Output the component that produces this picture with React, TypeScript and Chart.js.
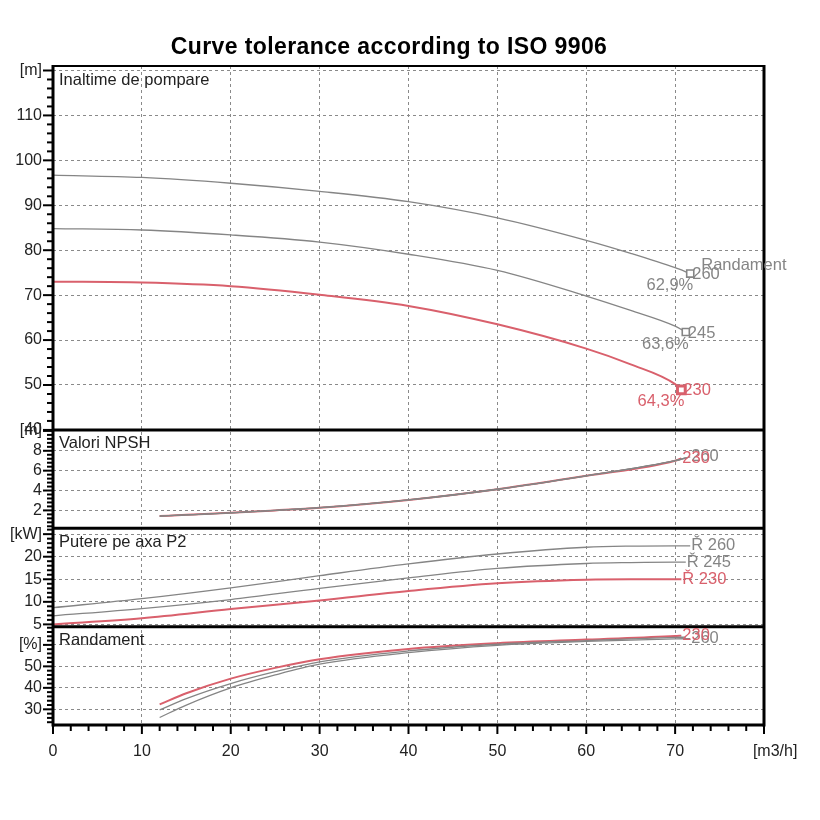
import { useEffect, useRef } from 'react';
import { Chart, registerables, Plugin } from 'chart.js';

Chart.register(...registerables);

const FONT = "'Liberation Sans', Arial, sans-serif";
const GRAY = '#858585';
const RED = '#d9606c';
const TEXT = '#222';

const TITLE = 'Curve tolerance according to ISO 9906';
// leading spaces push the unit a little right of the last tick, as in the original
const X_UNIT = '\u00a0\u00a0\u00a0\u00a0\u00a0[m3/h]';

// panels, top to bottom
const panelIds = ['yHead', 'yNpsh', 'yPower', 'yEff'];
const panelTitles = ['Inaltime de pompare', 'Valori NPSH', 'Putere pe axa P2', 'Randament'];
const panelUnits = ['[m]', '[m]', '[kW]', '[%]'];
const axisMin = [40, 0.2, 4.5, 22.7];
const axisMax = [121, 10.1, 26.3, 68.5];
const axisStep = [10, 2, 5, 10];
const axisMinor = [2, 0.4, 1, 2];
const axisWeight = [3.7, 1, 1, 1];

// flow [m3/h] for head and power curves
const qFull260 = [0, 10, 20, 30, 40, 50, 60, 65, 70, 71.7];
const qFull245 = [0, 10, 20, 30, 40, 50, 60, 65, 70, 71.2];
const qFull230 = [0, 10, 20, 30, 40, 50, 60, 65, 70, 70.7];

const head260 = [96.7, 96.2, 94.9, 93.1, 90.8, 87.2, 82.2, 79.3, 76.1, 74.8];
const head245 = [84.8, 84.5, 83.4, 81.8, 79.1, 75.5, 69.8, 66.6, 63.1, 61.8];
const head230 = [73.0, 72.8, 72.0, 70.1, 67.6, 63.5, 58.1, 54.6, 50.2, 48.9];

const power260 = [8.7, 10.7, 13.1, 15.8, 18.4, 20.6, 22.1, 22.35, 22.4, 22.4];
const power245 = [6.9, 8.5, 10.5, 13.0, 15.3, 17.4, 18.5, 18.7, 18.8, 18.8];
const power230 = [5.0, 6.35, 8.4, 10.3, 12.4, 14.1, 14.9, 15.0, 15.0, 15.0];

// flow [m3/h] for NPSH and efficiency curves
const qPart260 = [12, 15, 20, 25, 30, 40, 50, 60, 70, 71.7];
const qPart245 = [12, 15, 20, 25, 30, 40, 50, 60, 70, 71.2];
const qPart230 = [12, 15, 20, 25, 30, 40, 50, 60, 70, 70.7];

const npsh260 = [1.43, 1.55, 1.76, 2.0, 2.27, 3.05, 4.13, 5.48, 7.0, 7.38];
const npsh245 = [1.43, 1.55, 1.76, 2.0, 2.27, 3.05, 4.13, 5.48, 7.0, 7.3];
const npsh230 = [1.43, 1.55, 1.76, 2.0, 2.27, 3.05, 4.13, 5.48, 7.0, 7.23];

const eff260 = [26.2, 32.0, 40.0, 46.0, 51.0, 56.4, 59.8, 61.6, 62.8, 62.9];
const eff245 = [29.7, 35.0, 42.0, 47.5, 52.1, 57.2, 60.3, 62.0, 63.5, 63.6];
const eff230 = [32.3, 37.5, 44.3, 49.3, 53.3, 58.1, 60.8, 62.5, 64.1, 64.3];

const colorOf = (name: string) => (name === '230' ? RED : GRAY);
const pct = (v: number) => v.toFixed(1).replace('.', ',') + '%';

const toPoints = (q: number[], v: number[]) => q.map((x, i) => ({ x, y: v[i] }));

function makeSet(name: string, axis: string, q: number[], v: number[], endLabel: string, marker = false) {
  const color = colorOf(name);
  const red = name === '230';
  return {
    label: `${axis}-${name}`,
    data: toPoints(q, v),
    yAxisID: axis,
    borderColor: color,
    borderWidth: red ? 2 : 1.3,
    cubicInterpolationMode: 'monotone' as const,
    pointStyle: 'rect' as const,
    pointRadius: (c: any) => (marker && c.dataIndex === q.length - 1 ? (red ? 5.5 : 5) : 0),
    pointBorderWidth: red ? 3 : 1.6,
    pointBorderColor: color,
    pointBackgroundColor: '#fff',
    endLabel,
    endColor: color,
    endName: name,
    endPanel: axis,
  };
}

const effEnd: Record<string, number> = {
  '260': eff260[eff260.length - 1],
  '245': eff245[eff245.length - 1],
  '230': eff230[eff230.length - 1],
};

const datasets = [
  makeSet('260', 'yHead', qFull260, head260, '260', true),
  makeSet('245', 'yHead', qFull245, head245, '245', true),
  makeSet('230', 'yHead', qFull230, head230, '230', true),
  makeSet('260', 'yNpsh', qPart260, npsh260, '260'),
  makeSet('245', 'yNpsh', qPart245, npsh245, ''),
  makeSet('230', 'yNpsh', qPart230, npsh230, '230'),
  makeSet('260', 'yPower', qFull260, power260, 'Ř 260'),
  makeSet('245', 'yPower', qFull245, power245, 'Ř 245'),
  makeSet('230', 'yPower', qFull230, power230, 'Ř 230'),
  makeSet('260', 'yEff', qPart260, eff260, '260'),
  makeSet('245', 'yEff', qPart245, eff245, ''),
  makeSet('230', 'yEff', qPart230, eff230, '230'),
];

function line(ctx: CanvasRenderingContext2D, x1: number, y1: number, x2: number, y2: number, w: number) {
  ctx.lineWidth = w;
  ctx.beginPath();
  ctx.moveTo(x1, y1);
  ctx.lineTo(x2, y2);
  ctx.stroke();
}

const decorations: Plugin<'line'> = {
  id: 'decorations',
  afterDraw(chart) {
    const { ctx, chartArea: a, scales } = chart;
    ctx.save();
    ctx.strokeStyle = '#000';
    ctx.lineCap = 'butt';

    // title
    ctx.fillStyle = '#000';
    ctx.font = `bold 23px ${FONT}`;
    (ctx as any).letterSpacing = '0.4px';
    ctx.textAlign = 'center';
    ctx.textBaseline = 'middle';
    ctx.fillText(TITLE, 389, 48);
    (ctx as any).letterSpacing = '0px';

    // y tick marks + panel titles
    panelIds.forEach((id, p) => {
      const s = scales[id];
      const minor = axisMinor[p];
      for (let k = Math.ceil(s.min / minor - 1e-6); k * minor <= s.max + 1e-6; k++) {
        const v = k * minor;
        const y = s.getPixelForValue(v);
        const r = v / axisStep[p];
        const major = Math.abs(r - Math.round(r)) < 1e-6;
        line(ctx, a.left - (major ? 10 : 6), y, a.left, y, 2);
      }
      ctx.fillStyle = TEXT;
      ctx.font = `16.5px ${FONT}`;
      ctx.textAlign = 'left';
      ctx.textBaseline = 'middle';
      ctx.fillText(panelTitles[p], a.left + 6, s.top + 14);
    });

    // x tick marks
    const sx = scales.x;
    for (let v = 0; v <= 80; v += 2) {
      const x = sx.getPixelForValue(v);
      line(ctx, x, a.bottom, x, a.bottom + (v % 10 === 0 ? 9 : 6), 2);
    }

    // frames
    line(ctx, a.left, a.top, a.right, a.top, 2);
    line(ctx, a.left, a.top - 1, a.left, a.bottom + 1.5, 3);
    line(ctx, a.right, a.top - 1, a.right, a.bottom + 1.5, 3);
    line(ctx, a.left, a.bottom, a.right, a.bottom, 3);
    panelIds.slice(1).forEach((id) => {
      const s = scales[id];
      line(ctx, a.left, s.top, a.right, s.top, 3);
    });

    // end labels
    ctx.font = `16.5px ${FONT}`;
    ctx.textBaseline = 'middle';
    chart.data.datasets.forEach((ds: any, i) => {
      const meta = chart.getDatasetMeta(i);
      const pt = meta.data[meta.data.length - 1];
      if (!pt) return;
      ctx.fillStyle = ds.endColor;
      if (ds.endPanel === 'yHead') {
        ctx.textAlign = 'left';
        ctx.fillText(ds.endLabel, pt.x + 2, pt.y + 1);
        ctx.textAlign = 'right';
        ctx.fillText(pct(effEnd[ds.endName]), pt.x + 3, pt.y + 12);
        if (ds.endName === '260') {
          ctx.textAlign = 'left';
          ctx.fillText('Randament', pt.x + 11, pt.y - 8);
        }
      } else if (ds.endLabel) {
        ctx.textAlign = 'left';
        ctx.fillText(ds.endLabel, pt.x + 1, pt.y);
      }
    });
    ctx.restore();
  },
};

function yAxis(p: number) {
  return {
    type: 'linear' as const,
    position: 'left' as const,
    stack: 'panels',
    stackWeight: axisWeight[p],
    min: axisMin[p],
    max: axisMax[p],
    afterFit: (s: any) => {
      s.width = 53;
    },
    ticks: {
      stepSize: axisStep[p],
      includeBounds: false,
      autoSkip: false,
      padding: 11,
      color: TEXT,
      font: { size: 16, family: FONT },
      callback: (v: any, i: number, ticks: any[]) => (i === ticks.length - 1 ? panelUnits[p] : v),
    },
    grid: { color: '#8a8a8a', lineWidth: 1, drawTicks: false },
    border: { display: false, dash: [3, 3] },
  };
}

export default function App() {
  const canvasRef = useRef<HTMLCanvasElement>(null);
  const chartRef = useRef<Chart | null>(null);

  useEffect(() => {
    if (!canvasRef.current) return;
    if (chartRef.current) chartRef.current.destroy();

    // stacked axes: first defined sits at the bottom
    const scales: any = {
      x: {
        type: 'linear',
        min: 0,
        max: 80,
        afterFit: (s: any) => {
          s.height = 45;
        },
        ticks: {
          stepSize: 10,
          autoSkip: false,
          maxRotation: 0,
          padding: 17,
          color: TEXT,
          font: { size: 16, family: FONT },
          callback: (v: any) => (v === 80 ? X_UNIT : v),
        },
        grid: { color: '#8a8a8a', lineWidth: 1, drawTicks: false },
        border: { display: false, dash: [3, 3] },
      },
    };
    [3, 2, 1, 0].forEach((p) => {
      scales[panelIds[p]] = yAxis(p);
    });

    chartRef.current = new Chart(canvasRef.current, {
      type: 'line',
      data: { datasets: datasets as any },
      options: {
        responsive: false,
        animation: false,
        layout: { padding: { top: 66, left: 0, right: 56, bottom: 50 } },
        plugins: {
          legend: { display: false },
          tooltip: { enabled: false },
          title: { display: false },
        },
        scales,
      },
      plugins: [decorations],
    });

    return () => {
      if (chartRef.current) {
        chartRef.current.destroy();
        chartRef.current = null;
      }
    };
  }, []);

  return (
    <div style={{ position: 'absolute', left: 0, top: 0, width: 820, height: 820, background: '#fff' }}>
      <canvas ref={canvasRef} width={820} height={820} style={{ display: 'block' }} />
    </div>
  );
}
